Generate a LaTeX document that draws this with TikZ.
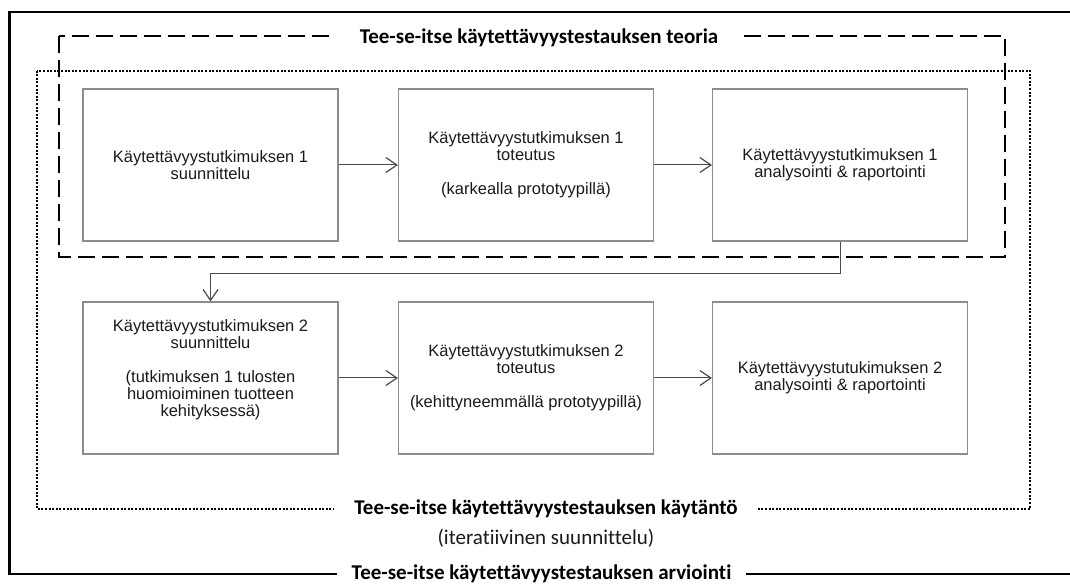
\documentclass[tikz,border=0pt]{standalone}
\usepackage{fontspec}
\setmainfont{Liberation Sans}
\newfontfamily\titlefont[Ligatures={NoCommon}]{Carlito}
\usetikzlibrary{arrows.meta}
\definecolor{boxgray}{HTML}{8C8C8C}
\definecolor{arrgray}{HTML}{4A4A4A}
\definecolor{txt}{HTML}{1A1A1A}
\begin{document}
\begin{tikzpicture}[x=1pt,y=1pt,
  stepbox/.style={draw=boxgray,line width=1.1pt,minimum width=255pt,minimum height=152pt,align=center,inner sep=0pt,text=txt,font=\fontsize{16.5}{17}\selectfont},
  boxtext/.style={align=center,inner sep=0pt,text=txt,font=\fontsize{16.5}{17}\selectfont},
  flow/.style={draw=arrgray,line width=1pt,-{Straight Barb[length=11pt,width=15pt,line width=1.2pt]}},
  frametitle/.style={fill=white,inner ysep=2pt,text=black,font=\titlefont\bfseries\fontsize{21}{24}\selectfont},
  outerframe/.style={draw=black,line width=2.5pt},
  theoryframe/.style={draw=black,line width=2pt,dash pattern=on 17pt off 7pt},
  practiceframe/.style={draw=black,line width=2pt,dash pattern=on 2pt off 1.6pt}]
\useasboundingbox (0,0) rectangle (1070,586);
% frames
\draw[outerframe] (1070,574) -- (9.6,574) -- (9.6,12) -- (1070,12);
\draw[theoryframe] (58.5,550) rectangle (1004.5,329);
\draw[practiceframe] (37,515.4) rectangle (1030,77);
% frame titles
\node[frametitle,inner xsep=24pt] (ttheory) at (539,548) {Tee-se-itse käytettävyystestauksen teoria};
\node[frametitle,inner xsep=20pt] (tpractice) at (546,77) {Tee-se-itse käytettävyystestauksen käytäntö};
\node[inner sep=1pt,text=txt,font=\titlefont\fontsize{21}{24}\selectfont] (titer) at (546,48) {(iteratiivinen suunnittelu)};
\node[frametitle,inner xsep=14.5pt] (teval) at (541.5,12) {Tee-se-itse käytettävyystestauksen arviointi};
% boxes row 1
\node[stepbox] (b1) at (210.5,421) {Käytettävyystutkimuksen 1\\suunnittelu};
\node[stepbox] (b2) at (526,421) {Käytettävyystutkimuksen 1\\toteutus\\[17pt](karkealla prototyypillä)};
\node[stepbox] (b3) at (840,421) {Käytettävyystutkimuksen 1\\analysointi \& raportointi};
% boxes row 2
\node[stepbox] (b4) at (210.5,208) {};
\node[boxtext] (t4) at (210.5,216.5) {Käytettävyystutkimuksen 2\\suunnittelu\\[17pt](tutkimuksen 1 tulosten\\huomioiminen tuotteen\\kehityksessä)};
\node[stepbox] (b5) at (526,208) {Käytettävyystutkimuksen 2\\toteutus\\[17pt](kehittyneemmällä prototyypillä)};
\node[stepbox] (b6) at (840,208) {Käytettävyystutukimuksen 2\\analysointi \& raportointi};
% connectors
\draw[flow] (b1) -- (b2);
\draw[flow] (b2) -- (b3);
\draw[flow] (b3.south) -- ++(0,-32) -| (b4.north);
\draw[flow] (b4) -- (b5);
\draw[flow] (b5) -- (b6);
\end{tikzpicture}
\end{document}
